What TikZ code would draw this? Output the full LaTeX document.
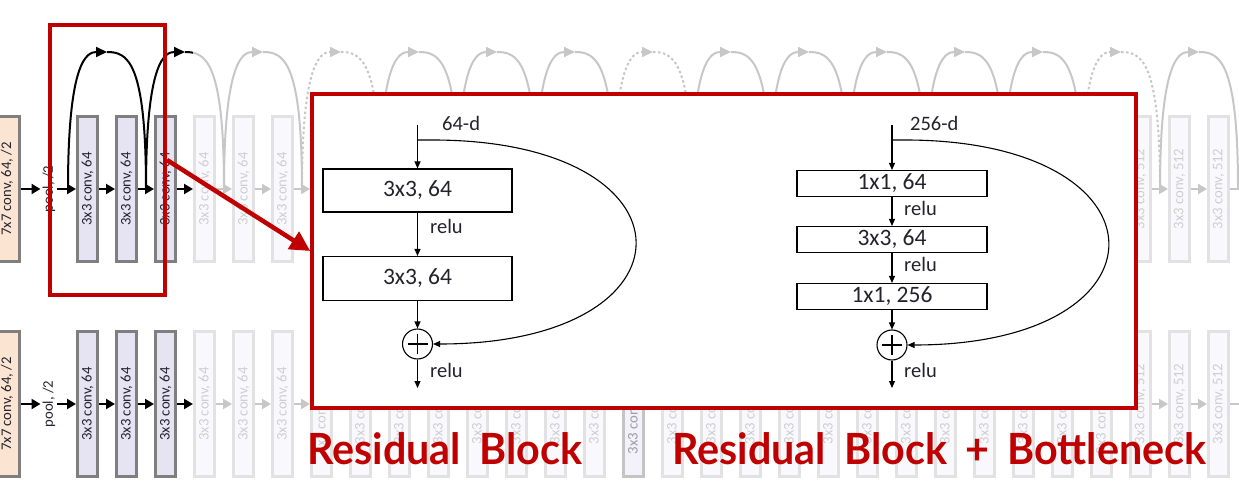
\documentclass[tikz,border=0pt]{standalone}
\usepackage{fontspec}
\setmainfont{Carlito}
\newfontfamily\titlefont{Lato}
\usetikzlibrary{arrows.meta}
\definecolor{hlred}{RGB}{192,0,0}
\definecolor{boxgray}{RGB}{127,127,127}
\definecolor{convfill}{RGB}{230,227,243}
\definecolor{stemfill}{RGB}{251,228,210}
\definecolor{txtdark}{RGB}{35,35,45}

\newcommand{\layertext}[1]{%
  \ifnum#1<7 3x3 conv, 64\else
  \ifnum#1=7 3x3 conv, 128, /2\else
  \ifnum#1<15 3x3 conv, 128\else
  \ifnum#1=15 3x3 conv, 256, /2\else
  \ifnum#1<27 3x3 conv, 256\else
  \ifnum#1=27 3x3 conv, 512, /2\else
  3x3 conv, 512\fi\fi\fi\fi\fi\fi}
\newcommand{\wgap}{\hspace{19pt}}

\tikzset{
  layer/.style={draw=boxgray, line width=3pt, fill=convfill, rotate=90,
    minimum width=145pt, minimum height=20pt, inner sep=0pt,
    text=txtdark, font=\fontsize{14.7}{16}\selectfont},
  stem/.style={layer, fill=stemfill, minimum height=25pt},
  poollbl/.style={rotate=90, inner sep=2pt, text=txtdark, font=\fontsize{14.7}{16}\selectfont},
  fwd/.style={line width=2.5pt, -{Triangle[length=9pt,width=10pt]}},
  skiparc/.style={line width=2pt},
  skiphead/.style={skiparc, -{Triangle[length=11pt,width=10pt]}},
  blk/.style={draw, line width=1.1pt, fill=white, inner sep=0pt, text=txtdark,
    font=\fontsize{23.5}{26}\selectfont},
  lbl/.style={inner sep=0pt, text=txtdark, font=\fontsize{20.5}{22}\selectfont},
  thinarrow/.style={line width=1.1pt, -{Triangle[length=7pt,width=6pt]}},
  sumnode/.style={circle, draw, line width=1.1pt, fill=white, minimum size=30pt, inner sep=0pt,
    path picture={\draw[line width=1.1pt]
      ([xshift=-10pt]path picture bounding box.center) -- ([xshift=10pt]path picture bounding box.center)
      ([yshift=-10pt]path picture bounding box.center) -- ([yshift=10pt]path picture bounding box.center);}},
  title/.style={inner sep=0pt, text=hlred, font=\titlefont\bfseries\fontsize{43}{48}\selectfont}
}

\begin{document}
\begin{tikzpicture}[x=1pt,y=-1pt]
\useasboundingbox (0,0) rectangle (1239,486);
\fill[white] (0,0) rectangle (1239,486);

% residual network (top) and plain network (bottom)
\node[stem] (t0) at (7,189) {7x7 conv, 64, /2};
\node[poollbl] (tpool) at (49,189) {pool, /2};
\node[stem] (p0) at (7,404) {7x7 conv, 64, /2};
\node[poollbl] (ppool) at (49,404) {pool, /2};
\foreach \k in {1,...,30}{
  \node[layer] (t\k) at ({87.5+39*(\k-1)},189) {\layertext{\k}};
  \node[layer] (p\k) at ({87.5+39*(\k-1)},404) {\layertext{\k}};
}
\coordinate (tend) at (1252,189);
\coordinate (pend) at (1252,404);
\draw[fwd] (t0) -- (tpool);
\draw[fwd] (tpool) -- (t1);
\draw[fwd] (p0) -- (ppool);
\draw[fwd] (ppool) -- (p1);
\foreach \k [evaluate=\k as \n using int(\k+1)] in {1,...,29}{
  \draw[fwd] (t\k) -- (t\n);
  \draw[fwd] (p\k) -- (p\n);
}
\draw[fwd] (t30) -- (tend);
\draw[fwd] (p30) -- (pend);

% shortcut arcs
\foreach \i in {0,...,15} \coordinate (g\i) at ({68+78*\i},189);
\foreach \i [evaluate=\i as \j using int(\i+1)] in {0,...,14}{
  \coordinate (h\i) at ({107+78*\i},52);
  \ifnum\i=3 \tikzset{arcdash/.style={dash pattern=on 2.5pt off 2.5pt}}
  \else\ifnum\i=7 \tikzset{arcdash/.style={dash pattern=on 2.5pt off 2.5pt}}
  \else\ifnum\i=13 \tikzset{arcdash/.style={dash pattern=on 2.5pt off 2.5pt}}
  \else \tikzset{arcdash/.style={}}\fi\fi\fi
  \draw[skiphead, arcdash] (g\i) .. controls +(0,-129) and +(-20,0) .. (h\i);
  \draw[skiparc, arcdash] (h\i) .. controls +(20,0) and +(0,-129) .. (g\j);
}

% fade the rest of the network
\fill[white, opacity=0.78] (193,0) rectangle (1239,486);
\node[layer, opacity=0.3] (p15b) at (p15) {\layertext{15}};

% highlight and zoomed inset
\node[draw=hlred, line width=4pt, minimum width=115pt, minimum height=270pt, inner sep=0pt] (hl) at (107.5,160) {};
\node[draw=hlred, line width=3.5pt, fill=white, minimum width=824pt, minimum height=314pt, inner sep=0pt] (inset) at (724,251) {};
\draw[hlred, line width=4.5pt, -{Triangle[length=20pt,width=20pt]}] (hl.east) -- (inset.west);

% residual block
\coordinate (ina) at (417.5,125);
\coordinate (ska) at (417.5,140);
\coordinate (outa) at (417.5,388);
\node[blk, minimum width=189pt, minimum height=43pt] (a1) at (417.5,190.5) {3x3, 64};
\node[blk, minimum width=189pt, minimum height=44pt] (a2) at (417.5,278.5) {3x3, 64};
\node[sumnode] (sa) at (417.5,344) {};
\node[lbl, anchor=west] (da) at (442,123) {64-d};
\node[lbl, anchor=west] (ra1) at (430,226) {relu};
\node[lbl, anchor=west] (ra2) at (430,370) {relu};
\draw[thinarrow] (ina) -- (a1);
\draw[thinarrow] (a1) -- (a2);
\draw[thinarrow] (a2) -- (sa);
\draw[thinarrow] (sa) -- (outa);
\draw[thinarrow] (ska) -- ++(15,0) .. controls +(270,0) and +(270,0) .. (sa.east);

% bottleneck block
\coordinate (inb) at (892,125);
\coordinate (skb) at (892,140);
\coordinate (outb) at (892,388);
\node[blk, minimum width=190pt, minimum height=26pt] (b1) at (892,183.5) {1x1, 64};
\node[blk, minimum width=190pt, minimum height=26pt] (b2) at (892,239.5) {3x3, 64};
\node[blk, minimum width=190pt, minimum height=26pt] (b3) at (892,296.5) {1x1, 256};
\node[sumnode] (sb) at (892,345) {};
\node[lbl, anchor=west] (db) at (910,123) {256-d};
\node[lbl, anchor=west] (rb1) at (904,208) {relu};
\node[lbl, anchor=west] (rb2) at (904,264) {relu};
\node[lbl, anchor=west] (rb3) at (904,370) {relu};
\draw[thinarrow] (inb) -- (b1);
\draw[thinarrow] (b1) -- (b2);
\draw[thinarrow] (b2) -- (b3);
\draw[thinarrow] (b3) -- (sb);
\draw[thinarrow] (sb) -- (outb);
\draw[thinarrow] (skb) -- ++(13,0) .. controls +(269,0) and +(269,0) .. (sb.east);

% titles
\node[title, anchor=base west] (restitle) at (307,464) {\scalebox{0.96}[1]{Residual\wgap Block}};
\node[title, anchor=base west] (bottitle) at (672,464) {\scalebox{0.96}[1]{Residual\wgap Block\wgap +\wgap Bottleneck}};
\end{tikzpicture}
\end{document}
